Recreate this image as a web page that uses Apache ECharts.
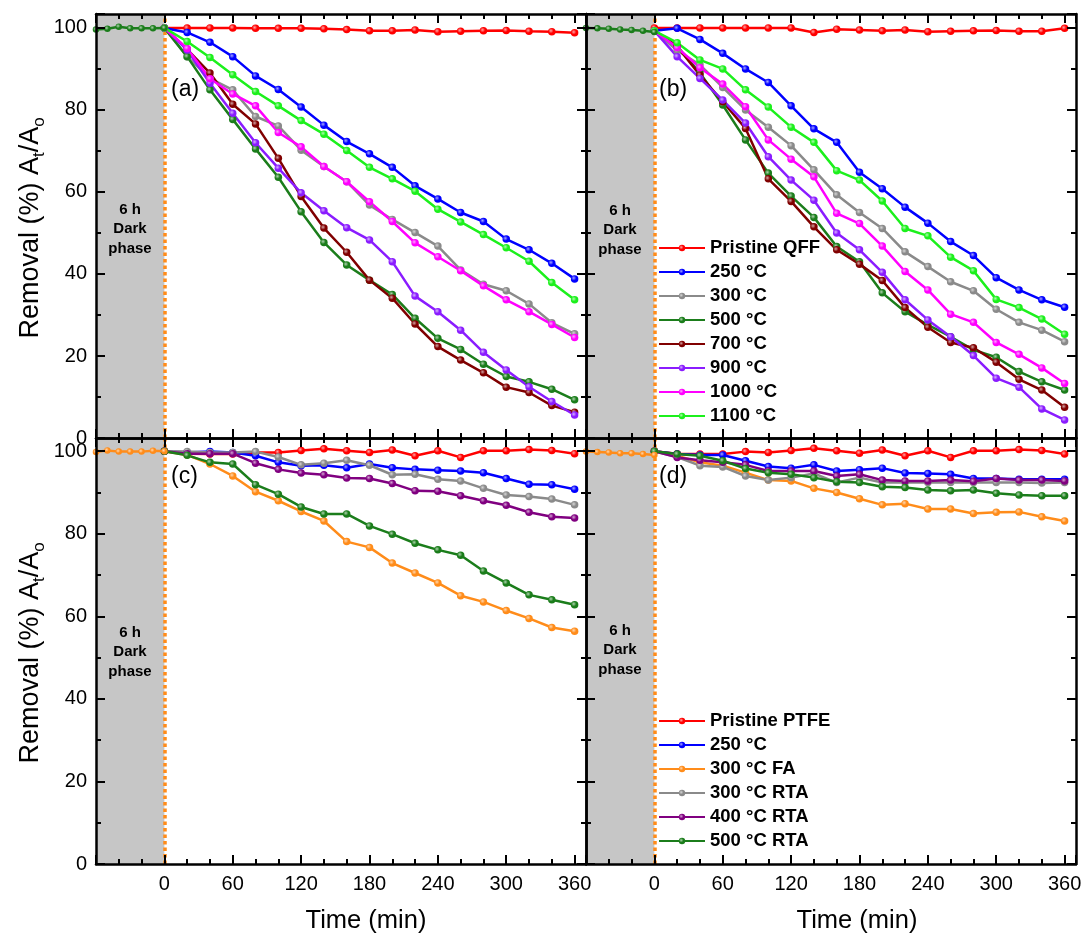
<!DOCTYPE html>
<html>
<head>
<meta charset="utf-8">
<script src="https://cdn.jsdelivr.net/npm/echarts@6/dist/echarts.min.js"></script>
<style>
  html, body { margin: 0; padding: 0; background: #fff; }
  #chart { width: 1086px; height: 934px; }
</style>
</head>
<body>
<div id="chart"></div>
<script>
// Sampling times (min) under illumination and during the dark adsorption phase
const TIME = [0, 20, 40, 60, 80, 100, 120, 140, 160, 180, 200, 220, 240, 260, 280, 300, 320, 340, 360];
const DARK_TIME = [-60, -50, -40, -30, -20, -10, 0];

// (a) QFF filters, removal At/Ao (%)
const QFF_NAMES = ['Pristine QFF', '250 °C', '300 °C', '500 °C', '700 °C', '900 °C', '1000 °C', '1100 °C'];
const A_PRISTINE = [100, 100, 100, 100, 99.9, 99.9, 99.9, 99.8, 99.6, 99.3, 99.3, 99.5, 99.1, 99.2, 99.3, 99.4, 99.2, 99.1, 98.8];
const A_250 = [100, 98.9, 96.5, 93.0, 88.3, 85.0, 80.7, 76.3, 72.3, 69.3, 66.0, 61.5, 58.3, 55.0, 52.8, 48.5, 45.9, 42.6, 38.8];
const A_300 = [100, 93.0, 87.7, 84.9, 78.4, 76.1, 70.2, 66.2, 62.5, 56.8, 53.3, 50.1, 46.8, 41.0, 37.5, 35.9, 32.7, 28.1, 25.4];
const A_500 = [100, 93.0, 84.9, 77.7, 70.5, 63.6, 55.2, 47.7, 42.2, 38.5, 35.0, 29.2, 24.3, 21.6, 18.0, 15.0, 13.7, 11.9, 9.3];
const A_700 = [100, 94.8, 89.0, 81.4, 76.6, 68.2, 58.9, 51.2, 45.3, 38.5, 34.1, 27.8, 22.3, 19.0, 15.9, 12.4, 11.1, 7.9, 6.3];
const A_900 = [100, 94.6, 86.5, 79.2, 72.0, 65.8, 59.8, 55.4, 51.3, 48.3, 43.0, 34.6, 30.8, 26.3, 20.9, 16.6, 12.5, 8.9, 5.6];
const A_1000 = [100, 95.0, 87.6, 83.9, 81.0, 74.5, 71.0, 66.2, 62.5, 57.6, 52.8, 47.6, 44.2, 40.8, 37.1, 33.7, 30.8, 27.7, 24.5];
const A_1100 = [100, 96.7, 92.8, 88.6, 84.5, 81.0, 77.4, 74.1, 70.1, 66.0, 63.2, 60.2, 55.8, 52.7, 49.6, 46.4, 43.1, 37.9, 33.7];
const A_DARK = [99.6, 99.8, 100.3, 99.9, 99.9, 99.9, 100];

// (b) QFF filters, second run
const B_PRISTINE = [100, 100, 100, 100, 100, 100, 100, 98.9, 99.7, 99.5, 99.3, 99.5, 99.1, 99.2, 99.3, 99.4, 99.2, 99.2, 99.9];
const B_250 = [99.3, 99.9, 97.2, 93.8, 90.0, 86.7, 81.0, 75.4, 72.1, 64.8, 60.8, 56.3, 52.4, 47.9, 44.5, 39.1, 36.1, 33.7, 31.9];
const B_300 = [99.3, 94.5, 91.0, 85.5, 80.0, 75.8, 71.3, 65.4, 59.3, 55.0, 51.1, 45.4, 41.8, 38.1, 35.9, 31.4, 28.2, 26.3, 23.5];
const B_500 = [99.3, 95.5, 89.0, 81.2, 72.7, 64.6, 59.0, 53.8, 46.7, 43.0, 35.4, 30.8, 27.6, 24.7, 21.5, 19.7, 16.2, 13.7, 11.7];
const B_700 = [99.3, 95.5, 88.5, 82.0, 75.5, 63.2, 57.7, 51.5, 45.9, 42.4, 38.4, 31.8, 27.0, 23.3, 22.0, 18.5, 14.3, 11.7, 7.5];
const B_900 = [99.3, 93.0, 87.7, 82.4, 76.8, 68.6, 62.9, 58.0, 50.0, 45.9, 40.4, 33.7, 28.8, 24.7, 20.1, 14.6, 12.4, 7.1, 4.4];
const B_1000 = [99.3, 95.2, 90.3, 86.3, 80.8, 72.7, 68.0, 63.7, 54.8, 52.3, 46.8, 40.6, 36.1, 30.2, 28.2, 23.3, 20.4, 17.1, 13.3];
const B_1100 = [99.3, 96.4, 92.2, 90.0, 84.9, 80.7, 75.8, 72.1, 65.2, 62.9, 57.8, 51.1, 49.3, 44.1, 40.8, 33.8, 31.8, 29.0, 25.3];
const B_DARK = [100, 99.9, 99.8, 99.6, 99.5, 99.3, 99.0];

// (c) PTFE filters
const PTFE_NAMES = ['Pristine PTFE', '250 °C', '300 °C FA', '300 °C RTA', '400 °C RTA', '500 °C RTA'];
const C_PRISTINE = [100, 99.4, 99.3, 99.3, 99.7, 99.7, 100.2, 100.6, 100.1, 99.7, 100.3, 98.9, 100.1, 98.5, 100.1, 100.1, 100.4, 100.2, 99.4];
const C_250 = [100, 99.7, 99.9, 99.7, 98.9, 97.3, 96.5, 96.6, 96.0, 96.9, 96.0, 95.6, 95.4, 95.2, 94.8, 93.4, 92.0, 91.9, 90.8];
const C_300FA = [100, 99.1, 96.9, 94.0, 90.2, 88.0, 85.4, 83.1, 78.1, 76.7, 72.9, 70.5, 68.1, 65.0, 63.5, 61.4, 59.5, 57.3, 56.4];
const C_300RTA = [100, 99.9, 99.7, 99.7, 99.9, 98.6, 96.7, 97.1, 97.8, 96.6, 94.3, 94.4, 93.2, 92.8, 91.0, 89.4, 89.0, 88.4, 87.0];
const C_400RTA = [100, 99.4, 99.4, 99.4, 97.1, 95.6, 94.7, 94.3, 93.5, 93.4, 92.2, 90.4, 90.3, 89.2, 88.0, 86.9, 85.2, 84.1, 83.8];
const C_500RTA = [100, 99.0, 97.3, 96.9, 91.9, 89.6, 86.5, 84.8, 84.8, 81.9, 79.9, 77.7, 76.1, 74.8, 71.0, 68.1, 65.2, 64.0, 62.8];
const C_DARK = [99.8, 100.2, 99.9, 99.9, 99.9, 100.1, 100];

// (d) PTFE filters, second run
const D_PRISTINE = [100, 99.4, 99.3, 99.3, 99.9, 99.7, 100.2, 100.7, 100.1, 99.5, 100.3, 98.9, 100.1, 98.5, 100.1, 100.1, 100.4, 100.2, 99.3];
const D_250 = [100, 99.3, 99.1, 99.1, 97.7, 96.3, 95.9, 96.7, 95.2, 95.5, 95.9, 94.7, 94.6, 94.4, 93.4, 93.4, 93.2, 93.2, 93.2];
const D_300FA = [100, 98.9, 97.3, 96.5, 94.8, 93.0, 92.8, 91.0, 90.0, 88.5, 87.0, 87.3, 86.0, 86.0, 84.9, 85.2, 85.3, 84.1, 83.1];
const D_300RTA = [100, 98.6, 96.5, 96.2, 94.0, 93.0, 93.6, 94.6, 92.4, 93.6, 92.4, 92.4, 92.4, 92.4, 92.4, 92.4, 92.4, 92.3, 92.4];
const D_400RTA = [100, 98.5, 97.8, 97.3, 96.7, 95.2, 95.2, 95.2, 94.0, 94.4, 93.0, 92.8, 92.8, 93.0, 92.7, 93.4, 93.0, 93.0, 92.8];
const D_500RTA = [100, 99.3, 98.9, 97.7, 95.8, 94.8, 94.4, 93.6, 92.6, 92.4, 91.4, 91.2, 90.6, 90.4, 90.6, 89.8, 89.4, 89.2, 89.2];
const D_DARK = [99.9, 99.8, 99.7, 99.5, 99.5, 99.3, 99.1];

// Tick labels
const X_TICK_LABELS = [0, 60, 120, 180, 240, 300, 360];
const Y_TICK_LABELS = [0, 20, 40, 60, 80, 100];

// ---- styling ----
const FONT = '"Liberation Sans", Arial, Helvetica, sans-serif';
const COLORS = {
  'Pristine QFF': '#ff0000', 'Pristine PTFE': '#ff0000',
  '250 °C': '#0000ff', '300 °C': '#8a8a8a', '500 °C': '#1b7d1b', '700 °C': '#800000',
  '900 °C': '#8a1cff', '1000 °C': '#ff00ff', '1100 °C': '#1cf01c',
  '300 °C FA': '#ff8c1a', '300 °C RTA': '#8a8a8a', '400 °C RTA': '#800080', '500 °C RTA': '#1b7d1b'
};
const DARK_GREEN = '#1b7d1b', ORANGE = '#ff8c1a';

const PANELS = [
  { names: QFF_NAMES, values: [A_PRISTINE, A_250, A_300, A_500, A_700, A_900, A_1000, A_1100], dark: A_DARK, darkColor: DARK_GREEN, tag: '(a)' },
  { names: QFF_NAMES, values: [B_PRISTINE, B_250, B_300, B_500, B_700, B_900, B_1000, B_1100], dark: B_DARK, darkColor: DARK_GREEN, tag: '(b)' },
  { names: PTFE_NAMES, values: [C_PRISTINE, C_250, C_300FA, C_300RTA, C_400RTA, C_500RTA], dark: C_DARK, darkColor: ORANGE, tag: '(c)' },
  { names: PTFE_NAMES, values: [D_PRISTINE, D_250, D_300FA, D_300RTA, D_400RTA, D_500RTA], dark: D_DARK, darkColor: ORANGE, tag: '(d)' }
];

const GRIDS = [
  { left: 96, top: 14, width: 490, height: 424, ymax: 103.4, xLabels: false, yLabels: true },
  { left: 586, top: 14, width: 490, height: 424, ymax: 103.4, xLabels: false, yLabels: false },
  { left: 96, top: 438, width: 490, height: 426, ymax: 103.2, xLabels: true, yLabels: true },
  { left: 586, top: 438, width: 490, height: 426, ymax: 103.2, xLabels: true, yLabels: false }
];

function lighten(hex, k) {
  const n = parseInt(hex.slice(1), 16);
  const r = (n >> 16) & 255, g = (n >> 8) & 255, b = n & 255;
  const m = c => Math.round(c + (255 - c) * k);
  return 'rgb(' + m(r) + ',' + m(g) + ',' + m(b) + ')';
}
function ball(color) {
  return {
    type: 'radial', x: 0.38, y: 0.38, r: 0.62,
    colorStops: [{ offset: 0, color: lighten(color, 0.65) }, { offset: 0.55, color: color }, { offset: 1, color: color }]
  };
}

const AXIS_LINE = { show: true, onZero: false, lineStyle: { color: '#000', width: 2.5 } };
const NO_LINE = { show: false, onZero: false };
const tickStyle = len => ({ show: true, inside: true, length: len, lineStyle: { color: '#000', width: 2 } });

const xAxes = [], yAxes = [];
GRIDS.forEach((g, i) => {
  const xBase = { type: 'value', gridIndex: i, min: -60, max: 370, z: 10, splitLine: { show: false }, axisLabel: { show: false } };
  xAxes.push(
    Object.assign({}, xBase, {
      position: 'bottom', interval: 60, axisLine: AXIS_LINE, axisTick: tickStyle(9),
      axisLabel: {
        show: g.xLabels, fontSize: 20, fontFamily: FONT, color: '#000', margin: 10,
        formatter: v => X_TICK_LABELS.indexOf(v) >= 0 ? String(v) : ''
      }
    }),
    Object.assign({}, xBase, { position: 'bottom', interval: 20, axisLine: NO_LINE, axisTick: tickStyle(5) }),
    Object.assign({}, xBase, { position: 'top', interval: 60, axisLine: AXIS_LINE, axisTick: tickStyle(9) }),
    Object.assign({}, xBase, { position: 'top', interval: 20, axisLine: NO_LINE, axisTick: tickStyle(5) })
  );
  const yBase = { type: 'value', gridIndex: i, min: 0, max: g.ymax, z: 10, splitLine: { show: false }, axisLabel: { show: false } };
  yAxes.push(
    Object.assign({}, yBase, {
      position: 'left', interval: 20, axisLine: AXIS_LINE, axisTick: tickStyle(9),
      axisLabel: {
        show: g.yLabels, fontSize: 20, fontFamily: FONT, color: '#000', margin: 9,
        formatter: v => Y_TICK_LABELS.indexOf(v) >= 0 ? String(v) : ''
      }
    }),
    Object.assign({}, yBase, { position: 'left', interval: 10, axisLine: NO_LINE, axisTick: tickStyle(5) }),
    Object.assign({}, yBase, { position: 'right', interval: 20, axisLine: AXIS_LINE, axisTick: tickStyle(9) }),
    Object.assign({}, yBase, { position: 'right', interval: 10, axisLine: NO_LINE, axisTick: tickStyle(5) })
  );
});

const series = [];
PANELS.forEach((p, i) => {
  const ax = { xAxisIndex: 4 * i, yAxisIndex: 4 * i };
  // shaded dark-phase band and the light-on marker at t = 0
  series.push(Object.assign({
    type: 'line', name: 'band ' + p.tag, data: [], silent: true, z: 1,
    markArea: { silent: true, itemStyle: { color: '#c6c6c6' }, data: [[{ xAxis: -60 }, { xAxis: 0 }]] },
    markLine: {
      silent: true, symbol: 'none', z: 1.5, label: { show: false },
      lineStyle: { color: ORANGE, type: [3.5, 3], width: 3.5 },
      emphasis: { disabled: true },
      data: [{ xAxis: 0 }]
    }
  }, ax));
  // dark adsorption phase readings
  series.push(Object.assign({
    type: 'line', name: 'dark ' + p.tag, z: 3, symbol: 'circle', symbolSize: 6.5,
    lineStyle: { color: p.darkColor, width: 2.5 }, itemStyle: { color: ball(p.darkColor) },
    data: DARK_TIME.map((t, k) => [t, p.dark[k]])
  }, ax));
  p.names.forEach((name, s) => {
    const c = COLORS[name];
    series.push(Object.assign({
      type: 'line', name: name, z: 2, symbol: 'circle', symbolSize: 7.5,
      lineStyle: { color: c, width: 2.5 }, itemStyle: { color: ball(c) },
      data: TIME.map((t, k) => [t, p.values[s][k]])
    }, ax));
  });
});

const legendText = { fontSize: 18.5, fontWeight: 'bold', fontFamily: FONT, color: '#000', lineHeight: 24 };
const legends = [
  { data: QFF_NAMES, left: 658, top: 236 },
  { data: PTFE_NAMES, left: 658, top: 709 }
].map(l => Object.assign({
  orient: 'vertical', padding: 0, itemWidth: 46, itemHeight: 8, itemGap: 0,
  selectedMode: false, textStyle: legendText
}, l));

const txt = (x, y, text, extra) => ({
  type: 'text', x: x, y: y, z: 100, silent: true,
  style: Object.assign({ text: text, fill: '#000', fontFamily: FONT }, extra)
});
const yTitle = 'Removal (%) A{s|t}/A{s|o}';
const yTitleStyle = {
  fontSize: 27, lineHeight: 33, align: 'center', verticalAlign: 'middle',
  rich: { s: { fontSize: 17, lineHeight: 17, verticalAlign: 'bottom', fontFamily: FONT } }
};
const darkNote = { fontSize: 15, fontWeight: 'bold', lineHeight: 19.5, align: 'center', verticalAlign: 'middle' };
const tagStyle = { fontSize: 23, align: 'left', verticalAlign: 'middle' };
const graphic = [
  Object.assign(txt(31, 228, yTitle, yTitleStyle), { rotation: Math.PI / 2 }),
  Object.assign(txt(31, 653, yTitle, yTitleStyle), { rotation: Math.PI / 2 }),
  txt(366, 921, 'Time (min)', { fontSize: 25.5, align: 'center', verticalAlign: 'middle' }),
  txt(857, 921, 'Time (min)', { fontSize: 25.5, align: 'center', verticalAlign: 'middle' }),
  txt(130, 229, '6 h\nDark\nphase', darkNote),
  txt(620, 230, '6 h\nDark\nphase', darkNote),
  txt(130, 652, '6 h\nDark\nphase', darkNote),
  txt(620, 650, '6 h\nDark\nphase', darkNote),
  txt(171, 90, PANELS[0].tag, tagStyle),
  txt(659, 90, PANELS[1].tag, tagStyle),
  txt(171, 477, PANELS[2].tag, tagStyle),
  txt(659, 477, PANELS[3].tag, tagStyle)
];

const chart = echarts.init(document.getElementById('chart'), null, { renderer: 'canvas' });
chart.setOption({
  animation: false,
  backgroundColor: '#fff',
  grid: GRIDS.map(g => ({ left: g.left, top: g.top, width: g.width, height: g.height, containLabel: false })),
  xAxis: xAxes,
  yAxis: yAxes,
  legend: legends,
  graphic: graphic,
  series: series
});
</script>
</body>
</html>
